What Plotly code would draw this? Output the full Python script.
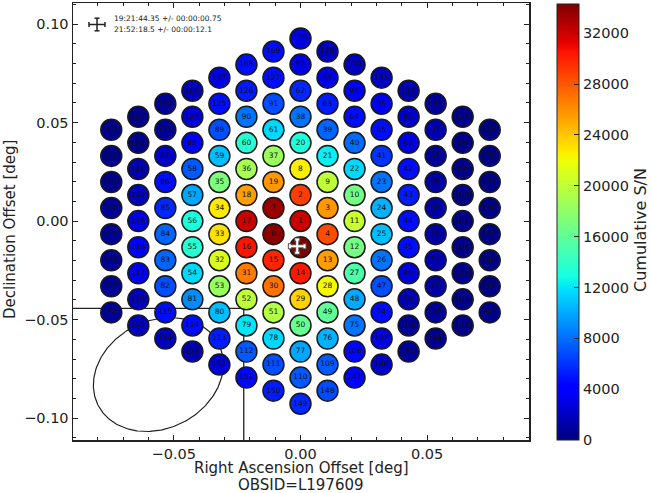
import numpy as np
import plotly.graph_objects as go

# ---------------- data ----------------
# Beam numbers per grid column, left (RA offset most negative) to right, listed top to bottom
COL_INDEX = [-7, -6, -5, -4, -3, -2, -1, 0, 1, 2, 3, 4, 5, 6, 7]
COLUMNS = [
    [163, 162, 161, 160, 159, 158, 157, 156],
    [164, 122, 121, 120, 119, 118, 117, 116, 155],
    [165, 123, 87, 86, 85, 84, 83, 82, 115, 154],
    [166, 124, 88, 58, 57, 56, 55, 54, 81, 114, 153],
    [167, 125, 89, 59, 35, 34, 33, 32, 53, 80, 113, 152],
    [168, 126, 90, 60, 36, 18, 17, 16, 31, 52, 79, 112, 151],
    [169, 127, 91, 61, 37, 19, 7, 6, 15, 30, 51, 78, 111, 150],
    [128, 92, 62, 38, 20, 8, 2, 1, 5, 14, 29, 50, 77, 110, 149],
    [129, 93, 63, 39, 21, 9, 3, 4, 13, 28, 49, 76, 109, 148],
    [130, 94, 64, 40, 22, 10, 11, 12, 27, 48, 75, 108, 147],
    [131, 95, 65, 41, 23, 24, 25, 26, 47, 74, 107, 146],
    [132, 96, 66, 42, 43, 44, 45, 46, 73, 106, 145],
    [133, 97, 67, 68, 69, 70, 71, 72, 105, 144],
    [134, 98, 99, 100, 101, 102, 103, 104, 143],
    [135, 136, 137, 138, 139, 140, 141, 142],
]
BEAM_DX_DEG = 0.01067   # RA offset between neighbouring columns
BEAM_DY_DEG = 0.01324   # Dec offset between beams in a column

# Cumulative S/N for beams 1..169 (index 0 -> beam 1)
BEAM_SNR = [
    32000, 29000, 25700, 28500, 34300, 34000, 33500, 22500, 20000, 16800,   # 1-10
    20300, 16900, 25500, 30300, 29900, 30500, 32000, 25500, 25700, 13200,   # 11-20
    12300, 11600, 8200, 10300, 10700, 8200, 15200, 22200, 23600, 27100,     # 21-30
    26700, 21100, 23000, 22700, 17200, 18900, 18400, 8200, 7700, 7900,      # 31-40
    6000, 4700, 5200, 4700, 4700, 2650, 6900, 10000, 16000, 16300,          # 41-50
    19500, 20000, 18400, 11600, 13600, 13100, 9900, 7300, 10700, 13600,     # 51-60
    11600, 5600, 5200, 4700, 4700, 3000, 750, 1100, 1100, 1100,             # 61-70
    1500, 1100, 1500, 4600, 8200, 10300, 9900, 11600, 12000, 10700,         # 71-80
    9000, 6900, 7700, 7700, 5600, 4700, 2300, 4000, 6900, 8200,             # 81-90
    6900, 3000, 3000, 3400, 3400, 2300, 1500, 400, 400, 400,                # 91-100
    400, 400, 400, 400, 750, 750, 3000, 4500, 7300, 7300,                   # 101-110
    6900, 7300, 5200, 4700, 4700, 1900, 3400, 4000, 3000, 1900,             # 111-120
    1500, 400, 750, 2650, 4700, 5200, 4700, 3000, 1900, 1900,               # 121-130
    1900, 1500, 750, 400, 100, 200, 200, 200, 200, 200,                     # 131-140
    200, 400, 400, 400, 750, 2300, 4400, 6800, 5600, 5200,                  # 141-150
    4500, 2650, 1500, 1900, 1900, 750, 750, 750, 750, 750,                  # 151-160
    400, 400, 400, 400, 750, 1900, 3000, 4700, 4700,                        # 161-169
]
SNR_MIN, SNR_MAX = 0, 34300
CBAR_TICKS = [0, 4000, 8000, 12000, 16000, 20000, 24000, 28000, 32000]

# Fitted position and its error (deg offsets)
POS_RA_OFF, POS_DEC_OFF = -0.0013, -0.0127
ERR_RA_DEG, ERR_DEC_DEG = 0.0029, 0.0034
POS_TEXT = ["19:21:44.35 +/- 00:00:00.75", "21:52:18.5 +/- 00:00:12.1"]

# Beam ellipse and its box (deg offsets)
ELL_CX, ELL_CY = -0.0561, -0.0779
ELL_RX, ELL_RY, ELL_PHASE = 0.02566, 0.0289, 0.185
BOX_X, BOX_Y = -0.0224, -0.0443

X_RANGE = [-0.0898, 0.0902]
Y_RANGE = [-0.1111, 0.1107]
OBSID = "L197609"

# ---------------- build beam table ----------------
bx, by, bid = [], [], []
for c, col in zip(COL_INDEX, COLUMNS):
    n = len(col)
    for k, b in enumerate(col):
        bx.append(c * BEAM_DX_DEG)
        by.append(((n - 1) / 2 - k) * BEAM_DY_DEG)
        bid.append(b)
bsnr = [BEAM_SNR[b - 1] for b in bid]

# matplotlib 'jet'
def jet_scale():
    r = ([0, 0.35, 0.66, 0.89, 1], [0, 0, 1, 1, 0.5])
    g = ([0, 0.125, 0.375, 0.64, 0.91, 1], [0, 0, 1, 1, 0, 0])
    b = ([0, 0.11, 0.34, 0.65, 1], [0.5, 1, 1, 0, 0])
    pos = sorted(set(list(np.linspace(0, 1, 101)) + r[0] + g[0] + b[0]))
    out = []
    for p in pos:
        rr = np.interp(p, *r); gg = np.interp(p, *g); bb = np.interp(p, *b)
        out.append([float(p), "rgb(%d,%d,%d)" % (round(rr * 255), round(gg * 255), round(bb * 255))])
    return out

JET = jet_scale()
FONT = "DejaVu Sans"
W, H = 651, 493
ML, MR, MT, MB = 73, 122, 3, 53
PW, PH = W - ML - MR, H - MT - MB

def px2paper(px, py):
    return (px - ML) / PW, (H - MB - py) / PH

fig = go.Figure()

# ellipse (behind beams)
t = np.linspace(0, 2 * np.pi, 300)
fig.add_trace(go.Scatter(
    x=ELL_CX + ELL_RX * np.cos(t), y=ELL_CY + ELL_RY * np.sin(t + ELL_PHASE),
    mode="lines", line=dict(color="#222222", width=1.2), hoverinfo="skip", showlegend=False))

# beams
cb_x, cb_y = px2paper(556.7, 222.0)
fig.add_trace(go.Scatter(
    x=bx, y=by, mode="markers+text", text=[str(b) for b in bid],
    textposition="middle center", textfont=dict(family=FONT, size=7.5, color="#111111"),
    marker=dict(size=21, color=bsnr, colorscale=JET, cmin=SNR_MIN, cmax=SNR_MAX,
                line=dict(color="#1a1a1a", width=1.5), showscale=True,
                colorbar=dict(thickness=22, thicknessmode="pixels", len=436 / PH, lenmode="fraction",
                              x=cb_x, xanchor="left", y=cb_y, yanchor="middle",
                              outlinewidth=1, outlinecolor="#222222",
                              tickvals=CBAR_TICKS, tickformat="d", ticks="inside", ticklen=5,
                              tickcolor="#222222",
                              tickfont=dict(family=FONT, size=14.5, color="#222222"),
                              xpad=0, ypad=0)),
    hoverinfo="skip", showlegend=False))

# fitted position cross
for col, thick, cap in (("#555555", 4, 3), ("#ffffff", 2, 2)):
    fig.add_trace(go.Scatter(
        x=[POS_RA_OFF], y=[POS_DEC_OFF], mode="markers",
        marker=dict(size=1, color=col),
        error_x=dict(type="data", array=[ERR_RA_DEG], color=col, thickness=thick, width=cap),
        error_y=dict(type="data", array=[ERR_DEC_DEG], color=col, thickness=thick, width=cap),
        hoverinfo="skip", showlegend=False))

shapes = [
    dict(type="line", xref="x domain", yref="y", x0=0, x1=(BOX_X - X_RANGE[0]) / (X_RANGE[1] - X_RANGE[0]),
         y0=BOX_Y, y1=BOX_Y, line=dict(color="#222222", width=1.3), layer="below"),
    dict(type="line", xref="x", yref="y domain", x0=BOX_X, x1=BOX_X,
         y0=0, y1=(BOX_Y - Y_RANGE[0]) / (Y_RANGE[1] - Y_RANGE[0]), line=dict(color="#222222", width=1.3), layer="below"),
]
# legend error-bar symbol (top-left)
cx, cy = px2paper(97, 24.5)
hx, hy = 8 / PW, 6.3 / PH
capx, capy = 2.5 / PH, 2.5 / PW
for (x0, y0, x1, y1) in [
    (cx - hx, cy, cx + hx, cy), (cx, cy - hy, cx, cy + hy),
    (cx - hx, cy - capx, cx - hx, cy + capx), (cx + hx, cy - capx, cx + hx, cy + capx),
    (cx - capy, cy - hy, cx + capy, cy - hy), (cx - capy, cy + hy, cx + capy, cy + hy)]:
    shapes.append(dict(type="line", xref="paper", yref="paper", x0=x0, y0=y0, x1=x1, y1=y1,
                       line=dict(color="#222222", width=1.5)))

annotations = []
for txt, py in zip(POS_TEXT, (19, 29.5)):
    ax_, ay_ = px2paper(112.3, py)
    annotations.append(dict(text=txt, x=ax_, y=ay_, xref="paper", yref="paper", xanchor="left",
                            yanchor="middle", showarrow=False, font=dict(family=FONT, size=7.5, color="#222222")))
for txt, px, py, ang, size in [
    ("Right Ascension Offset [deg]", 301.3, 468, 0, 15),
    ("OBSID=" + OBSID, 301.3, 485, 0, 15),
    ("Declination Offset [deg]", 10, 230, -90, 15),
    ("Cumulative S/N", 640, 230, -90, 16)]:
    ax_, ay_ = px2paper(px, py)
    annotations.append(dict(text=txt, x=ax_, y=ay_, xref="paper", yref="paper", xanchor="center",
                            yanchor="middle", showarrow=False, textangle=ang,
                            font=dict(family=FONT, size=size, color="#222222")))

axis_common = dict(showgrid=False, zeroline=False, showline=True, linecolor="#222222", linewidth=1.5,
                   mirror="allticks", ticks="inside", ticklen=5, tickwidth=1, tickcolor="#222222",
                   tickfont=dict(family=FONT, size=14.5, color="#222222"), tickformat=".2f",
                   automargin=False,
                   minor=dict(dtick=0.01, ticks="inside", ticklen=3, tickcolor="#222222", tickwidth=1))
fig.update_layout(
    width=W, height=H, margin=dict(l=ML, r=MR, t=MT, b=MB, autoexpand=False),
    paper_bgcolor="white", plot_bgcolor="white", font=dict(family=FONT),
    xaxis=dict(range=X_RANGE, tickvals=[-0.05, 0, 0.05], **axis_common),
    yaxis=dict(range=Y_RANGE, tickvals=[-0.10, -0.05, 0, 0.05, 0.10], **axis_common),
    shapes=shapes, annotations=annotations, showlegend=False)

fig.write_html("out.html", config={"displayModeBar": False, "staticPlot": True},
               post_script="document.body.style.margin='0';document.body.style.padding='0';")
